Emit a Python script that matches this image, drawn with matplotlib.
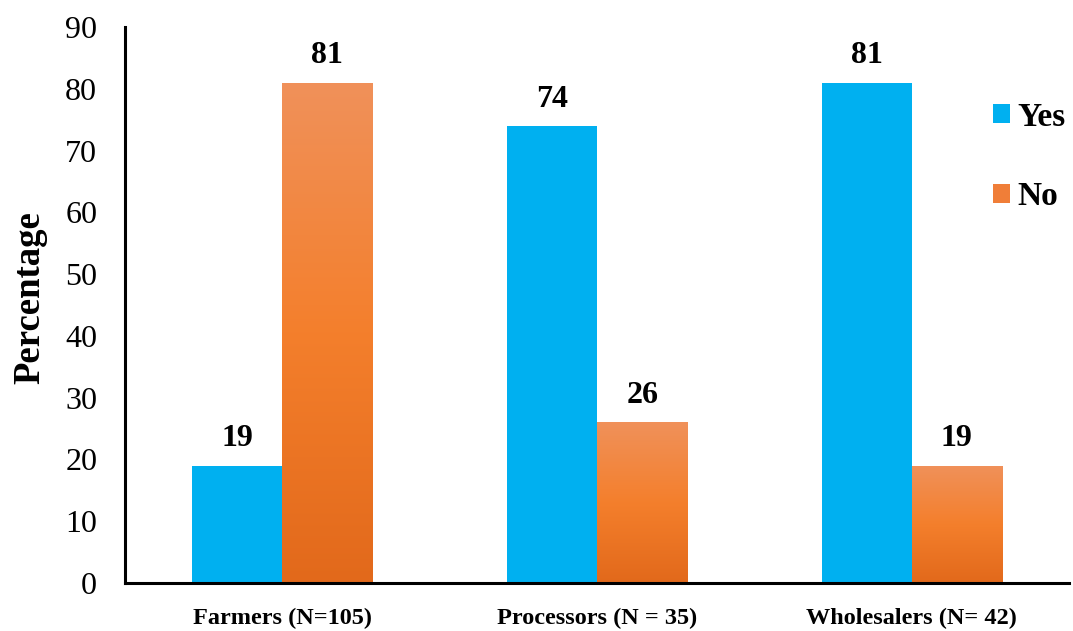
import numpy as np
import matplotlib
matplotlib.use("Agg")
import matplotlib.pyplot as plt
from matplotlib.colors import LinearSegmentedColormap
from matplotlib.patches import Patch

categories = ["Farmers (N=105)", "Processors (N = 35)", "Wholesalers (N= 42)"]
yes_values = [19, 74, 81]
no_values = [81, 26, 19]
series_names = ["Yes", "No"]

plt.rcParams["font.family"] = ["Liberation Serif", "DejaVu Serif"]

fig = plt.figure(figsize=(10.73, 6.31), dpi=100)
ax = fig.add_axes([0.1165, 0.0761, 0.880, 0.881])

x = np.arange(len(categories))
width = 0.286
blue = "#00B0F0"
orange_cmap = LinearSegmentedColormap.from_list(
    "orange_grad", ["#E2691B", "#F47F2C", "#F0915A"])

yes_bars = ax.bar(x - width / 2, yes_values, width, color=blue, zorder=2)
no_bars = ax.bar(x + width / 2, no_values, width, color="none", zorder=2)

# vertical gradient fill for the "No" bars
grad = np.linspace(0, 1, 256).reshape(-1, 1)
for bar in no_bars:
    x0, y0 = bar.get_x(), bar.get_y()
    w, h = bar.get_width(), bar.get_height()
    im = ax.imshow(grad, cmap=orange_cmap, origin="lower", aspect="auto",
                   extent=(x0, x0 + w, y0, y0 + h), zorder=2)
    im.set_clip_path(bar)

for bars, vals in ((yes_bars, yes_values), (no_bars, no_values)):
    for bar, v in zip(bars, vals):
        ax.text(bar.get_x() + bar.get_width() / 2, v + 2.0, f"{v}",
                ha="center", va="bottom", fontsize=23, fontweight="bold")

ax.set_xlim(-0.5, 2.5)
ax.set_ylim(0, 90)
ax.set_yticks(np.arange(0, 91, 10))
ax.set_xticks(x)
ax.set_xticklabels(categories, fontsize=17.5, fontweight="bold")
ax.tick_params(axis="y", labelsize=23, length=0, pad=20)
ax.tick_params(axis="x", length=0, pad=18)
ax.set_ylabel("Percentage", fontsize=26.5, fontweight="bold")
ax.yaxis.set_label_coords(-0.0826, 0.513)

for side in ("top", "right"):
    ax.spines[side].set_visible(False)
for side in ("left", "bottom"):
    ax.spines[side].set_linewidth(2.2)
    ax.spines[side].set_color("black")

handles = [Patch(facecolor=blue), Patch(facecolor="#F07E38")]
ax.legend(handles, series_names, loc="upper left",
          bbox_to_anchor=(993 / 1073, 0.839), bbox_transform=fig.transFigure,
          frameon=False, prop={"size": 24, "weight": "bold"},
          borderpad=0, borderaxespad=0,
          handlelength=0.5, handleheight=0.5, handletextpad=0.22,
          labelspacing=1.45)

fig.savefig("out.png", dpi=100)
